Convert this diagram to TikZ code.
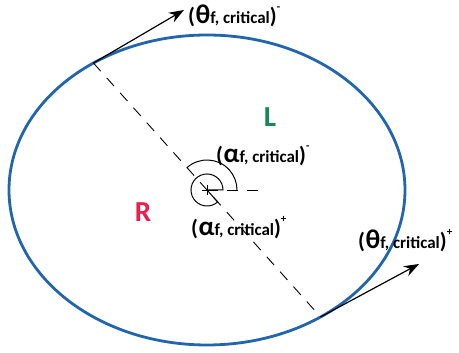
\documentclass[tikz,border=0pt]{standalone}
\usepackage{fontspec}
\setmainfont{Carlito}
\usetikzlibrary{arrows.meta,calc}
\definecolor{ellblue}{HTML}{2166AC}
\definecolor{rred}{HTML}{EB1E4B}
\definecolor{lgreen}{HTML}{168A55}
\newcommand\critlab[2]{\bfseries\fontsize{22}{22}\selectfont(\kern0.5pt{\fontsize{27}{27}\selectfont#1}{\fontsize{17}{17}\selectfont f, critical})\raisebox{1.2ex}{\fontsize{11}{11}\selectfont#2}}
\begin{document}
\begin{tikzpicture}[x=1pt,y=1pt,
  ell/.style={draw=ellblue,line width=2.8pt},
  tangent/.style={draw=black,line width=1.2pt,-{Stealth[length=15pt,width=11pt]}},
  diam/.style={draw=black,line width=0.9pt,dash pattern=on 11pt off 9pt},
  thinline/.style={draw=black,line width=1pt},
  lab/.style={inner sep=0pt,anchor=west},
  region/.style={font=\bfseries\fontsize{29}{29}\selectfont,inner sep=0pt}]
\useasboundingbox (0,0) rectangle (459,353);
\coordinate (C) at (207,163);
\draw[ell] (C) ellipse [x radius=198pt, y radius=155pt];
\coordinate (P1) at ($(C)+(125:198pt and 155pt)$);
\coordinate (P2) at ($(C)+(-55:198pt and 155pt)$);
\coordinate (T1) at (184,343);
\coordinate (T2) at (419,89);
\coordinate (H) at (263,163);
\draw[diam] (P1) -- (P2);
\draw[diam] (C) -- (H);
\draw[tangent] (P1) -- (T1);
\draw[tangent] (P2) -- (T2);
\draw[thinline] (C) -- ($(C)+(16pt,0)$) arc[start angle=0,end angle=311.8,radius=16pt] -- cycle;
\draw[thinline] ($(C)+(131.8:30pt)$) arc[start angle=131.8,end angle=0,radius=30pt];
\draw[line width=0.6pt] (C) +(-5pt,0) -- +(5pt,0) (C) +(0,-5pt) -- +(0,5pt);
\node[lab] (thm) at (188,337) {\critlab{θ}{-}};
\node[lab] (alm) at (216,197) {\critlab{α}{-}};
\node[lab] (alp) at (191,125) {\critlab{α}{+}};
\node[lab] (thp) at (358,112) {\critlab{θ}{+}};
\node[region,text=rred] (R) at (143,141) {R};
\node[region,text=lgreen] (L) at (270,236) {L};
\end{tikzpicture}
\end{document}
